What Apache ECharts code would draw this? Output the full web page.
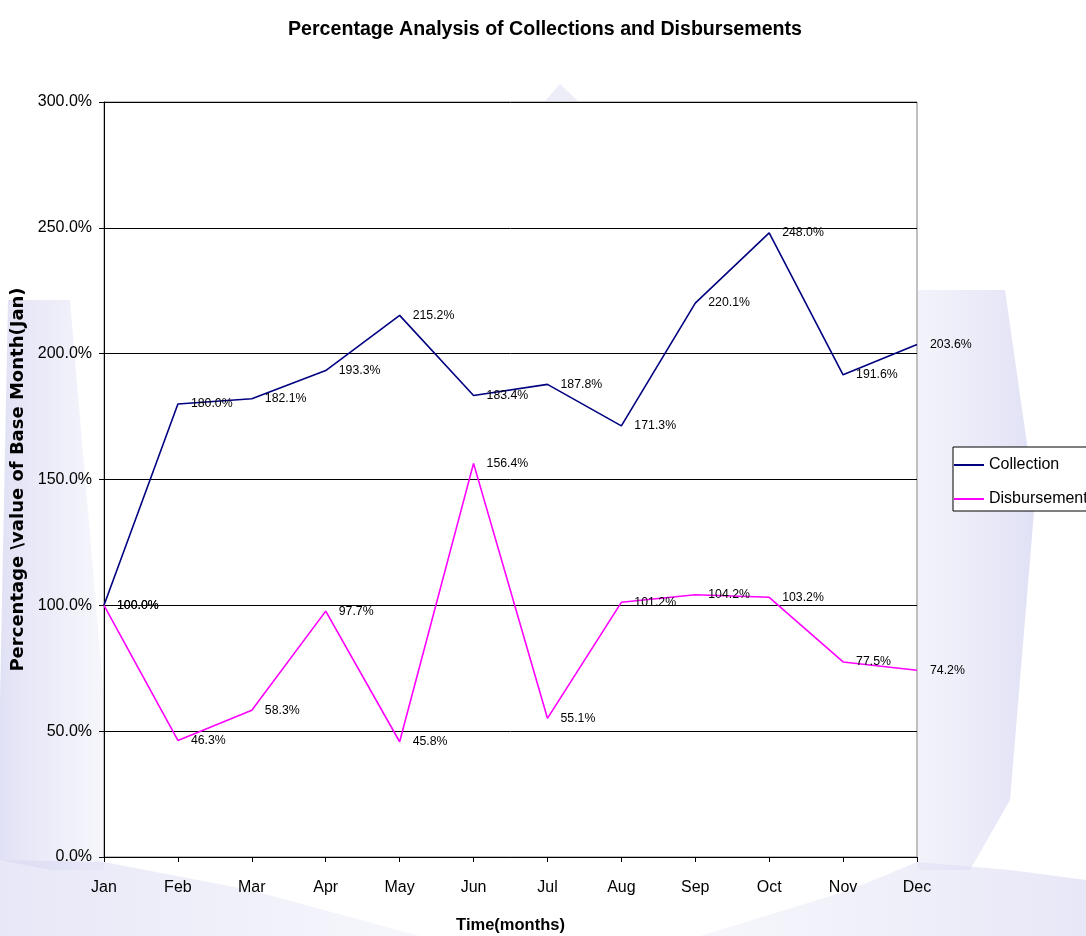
<!DOCTYPE html>
<html><head><meta charset="utf-8">
<script src="https://cdn.jsdelivr.net/npm/echarts@6/dist/echarts.min.js"></script>
<style>html,body{margin:0;padding:0;background:#fff}#c{width:1086px;height:936px}</style>
</head><body><div id="c"></div>
<script>
const months = ['Jan','Feb','Mar','Apr','May','Jun','Jul','Aug','Sep','Oct','Nov','Dec'];
const collection = [100.0,180.0,182.1,193.3,215.2,183.4,187.8,171.3,220.1,248.0,191.6,203.6];
const disbursement = [100.0,46.3,58.3,97.7,45.8,156.4,55.1,101.2,104.2,103.2,77.5,74.2];

const chart = echarts.init(document.getElementById('c'));
const font = 'Liberation Sans, Arial, sans-serif';
const lbl = {show:true,position:'right',distance:12,fontFamily:font,fontSize:12.3,color:'#000',formatter:p=>p.value.toFixed(1)+'%'};
const grad = (a,b)=>({type:'linear',x:0,y:0,x2:1,y2:0,colorStops:[{offset:0,color:a},{offset:1,color:b}]});
chart.setOption({
  backgroundColor:'#fff',
  animation:false,
  graphic:[
    {type:'polygon',z:-10,silent:true,shape:{points:[[8,300],[70,300],[104,700],[104,870],[50,870],[0,860],[0,700]]},
      style:{fill:grad('rgba(215,215,242,0.75)','rgba(225,225,245,0.3)')}},
    {type:'polygon',z:-10,silent:true,shape:{points:[[0,860],[104,862],[250,890],[420,936],[0,936]]},
      style:{fill:grad('rgba(215,215,242,0.6)','rgba(225,225,245,0.3)')}},
    {type:'polygon',z:-10,silent:true,shape:{points:[[918,290],[1005,290],[1035,500],[1010,800],[970,870],[918,870]]},
      style:{fill:grad('rgba(225,225,245,0.4)','rgba(212,212,242,0.7)')}},
    {type:'polygon',z:-10,silent:true,shape:{points:[[917,862],[1010,870],[1086,880],[1086,936],[700,936],[850,890]]},
      style:{fill:grad('rgba(225,225,245,0.3)','rgba(215,215,242,0.6)')}},
    {type:'polygon',z:-10,silent:true,shape:{points:[[545,101],[560,84],[578,101]]},style:{fill:'rgba(220,220,242,0.5)'}}
  ],
  title:{text:'Percentage Analysis of Collections and Disbursements',left:540,top:15,textAlign:'center',
    textStyle:{fontFamily:font,fontSize:19.6,fontWeight:'bold',color:'#000'}},
  legend:{left:953,top:447,orient:'vertical',itemWidth:30,itemHeight:14,itemGap:18,
    borderColor:'#000',borderWidth:1,padding:[10,10,4,0],borderRadius:0,backgroundColor:'#fff',
    textStyle:{fontFamily:font,fontSize:16,color:'#000'},
    data:['Collection','Disbursement']},
  grid:{left:104,right:169,top:102,bottom:79,outerBoundsMode:'none',show:true,borderColor:'#808080',borderWidth:1,backgroundColor:'#fff'},
  xAxis:{type:'category',data:months,boundaryGap:false,
    name:'Time(months)',nameLocation:'middle',nameGap:60,
    nameTextStyle:{fontFamily:font,fontSize:16.5,fontWeight:'bold',color:'#000'},
    axisLine:{lineStyle:{color:'#000'}},axisTick:{show:true,alignWithLabel:true,length:5,lineStyle:{color:'#000'}},
    axisLabel:{fontFamily:font,fontSize:16,color:'#000',margin:23},splitLine:{show:false}},
  yAxis:{type:'value',min:0,max:300,interval:50,
    name:'Percentage \\value of Base Month(Jan)',nameLocation:'middle',nameGap:72,
    nameTextStyle:{fontFamily:'DejaVu Sans, Verdana, sans-serif',fontSize:18,fontWeight:'bold',color:'#000'},
    axisLine:{show:true,lineStyle:{color:'#000'}},axisTick:{show:true,length:5,lineStyle:{color:'#000'}},
    axisLabel:{fontFamily:font,fontSize:16,color:'#000',margin:12,formatter:v=>v.toFixed(1)+'%'},
    splitLine:{show:true,lineStyle:{color:'#000',width:1}}},
  series:[
    {name:'Collection',type:'line',data:collection,symbol:'circle',symbolSize:2,showSymbol:true,color:'#000080',
      itemStyle:{color:'rgba(0,0,0,0)',borderWidth:0},
      lineStyle:{color:'#000080',width:1.6},label:lbl},
    {name:'Disbursement',type:'line',data:disbursement,symbol:'circle',symbolSize:2,showSymbol:true,color:'#FF00FF',
      itemStyle:{color:'rgba(0,0,0,0)',borderWidth:0},
      lineStyle:{color:'#FF00FF',width:1.6},label:lbl}
  ]
});
</script></body></html>
